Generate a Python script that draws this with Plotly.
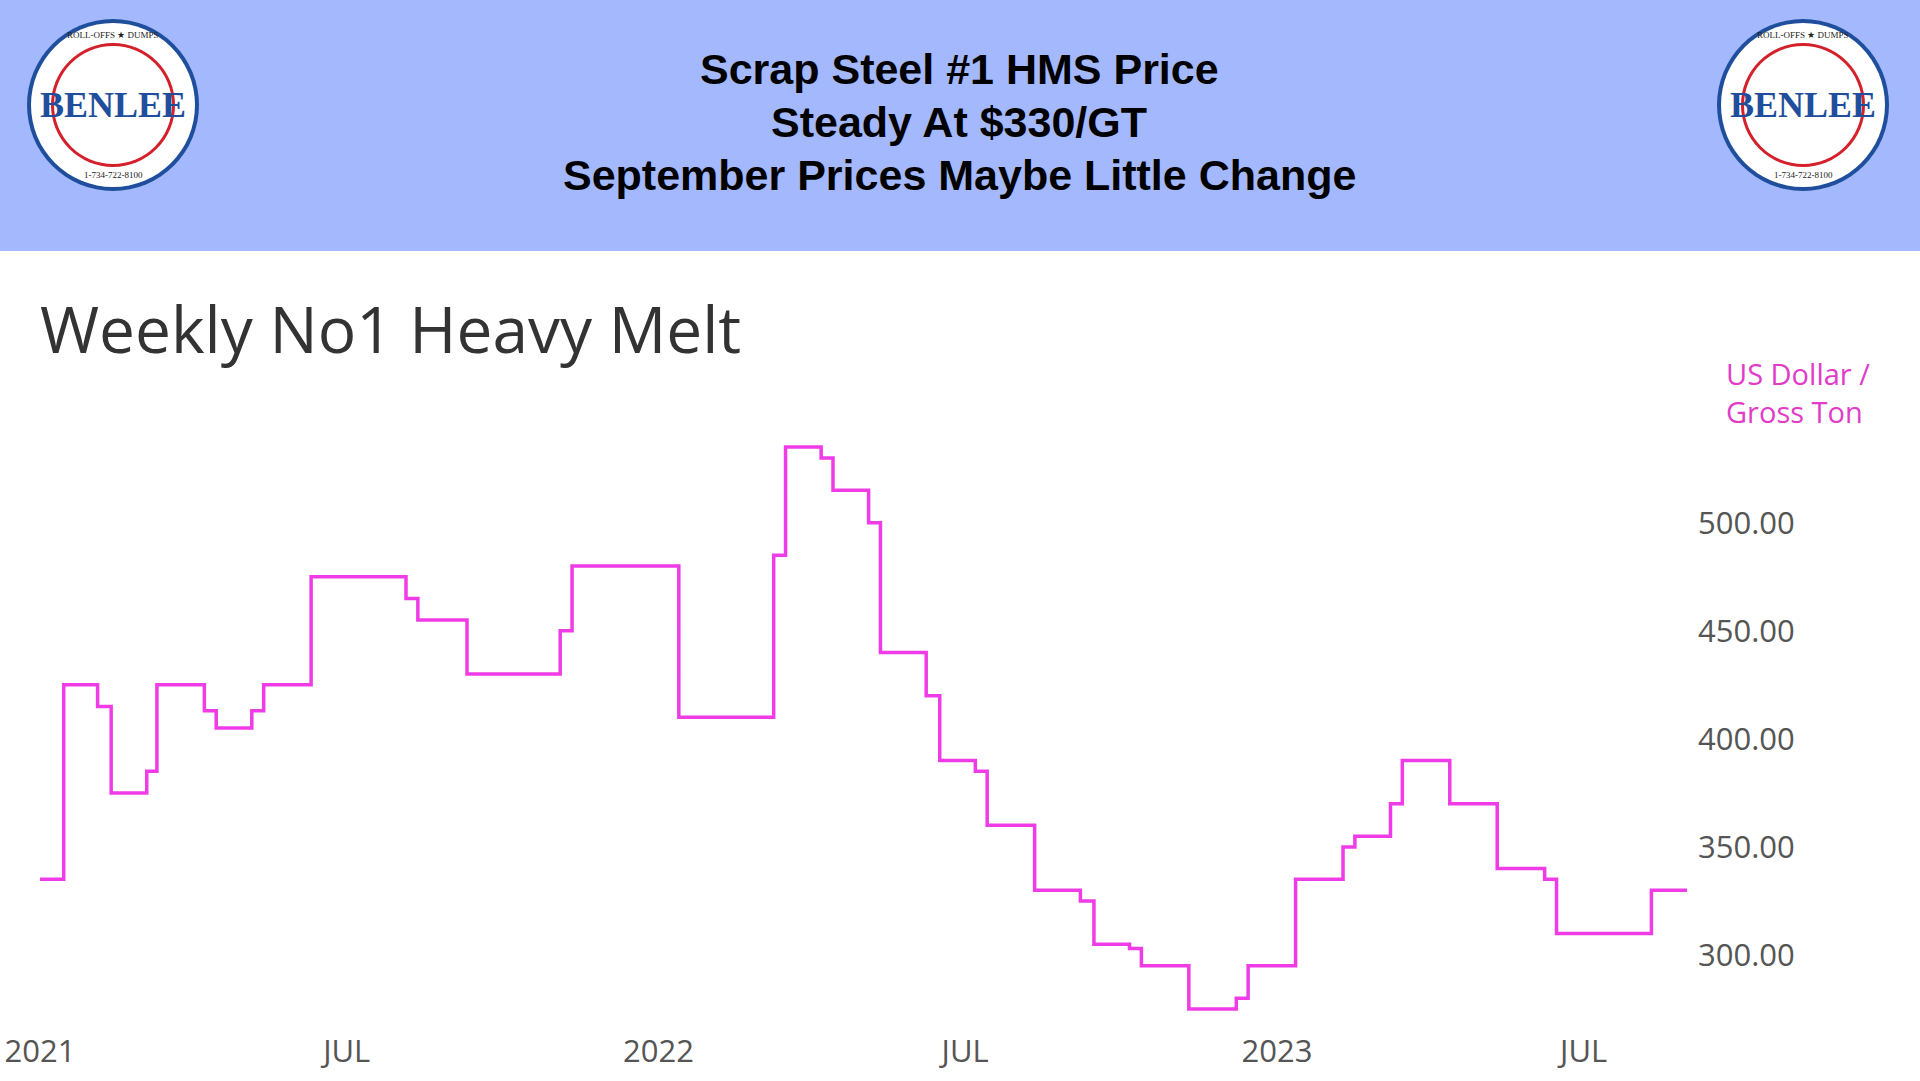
import plotly.graph_objects as go

W, H = 1920, 1081
dates = ["2021-01-01","2021-01-15","2021-02-04","2021-02-12","2021-03-05","2021-03-11","2021-04-08","2021-04-15",
         "2021-05-06","2021-05-13","2021-06-10","2021-08-05","2021-08-12","2021-09-10","2021-11-04","2021-11-11",
         "2022-01-13","2022-03-10","2022-03-17","2022-04-07","2022-04-14","2022-05-05","2022-05-12","2022-06-08",
         "2022-06-16","2022-07-07","2022-07-14","2022-08-11","2022-09-07","2022-09-15","2022-10-06","2022-10-13",
         "2022-11-10","2022-12-08","2022-12-15","2023-01-12","2023-02-09","2023-02-16","2023-03-09","2023-03-16",
         "2023-04-13","2023-05-11","2023-06-08","2023-06-15","2023-08-10","2023-08-31"]
prices = [335,425,415,375,385,425,413,405,413,425,475,465,455,430,450,480,
          410,485,535,530,515,500,440,420,390,385,360,330,325,305,303,295,
          275,280,295,335,350,355,370,390,370,340,335,310,330,330]
tick_vals = ["2021-01-01","2021-07-01","2022-01-01","2022-07-01","2023-01-01","2023-07-01"]
tick_text = ["2021","JUL","2022","JUL","2023","JUL"]
y_ticks = [300,350,400,450,500]

fig = go.Figure(go.Scatter(x=dates, y=prices, mode="lines", line=dict(color="#f03ce6", width=3.5, shape="hv")))

shapes = [dict(type="rect", xref="paper", yref="paper", x0=0, x1=1, y0=1-251/H, y1=1,
               fillcolor="#a3b8fd", line_width=0, layer="below")]
annotations = []
def ann(x, y, text, font, xanchor="center", **kw):
    annotations.append(dict(x=x/W, y=1-y/H, xref="paper", yref="paper", text=text, showarrow=False,
                            xanchor=xanchor, yanchor="middle", font=font, **kw))

for cx in (113, 1803):
    cy, r = 105, 86
    for rr, col in ((r, "#1f4f9c"), (r-4, "white"), (r-24, "#d4202a"), (r-27, "white")):
        shapes.append(dict(type="circle", xref="paper", yref="paper",
                           x0=(cx-rr)/W, x1=(cx+rr)/W, y0=1-(cy+rr)/H, y1=1-(cy-rr)/H,
                           fillcolor=col, line_width=0))
    ann(cx, cy, "<b>BENLEE</b>", dict(family="Liberation Sans Narrow, Arial Narrow", size=36, color="#1f4f9c"))
    ann(cx, cy-70, "ROLL-OFFS ★ DUMPS", dict(family="Liberation Serif", size=9, color="#222"))
    ann(cx, cy+70, "1-734-722-8100", dict(family="Liberation Serif", size=9, color="#222"))

for i, t in enumerate(["Scrap Steel #1 HMS Price", "Steady At $330/GT", "September Prices Maybe Little Change"]):
    ann(959, 69+53*i, "<b>"+t+"</b>", dict(family="Liberation Sans, Arial", size=43, color="black"))
ann(38, 328, "Weekly No1 Heavy Melt", dict(family="Open Sans", size=64, color="#333"), xanchor="left")
ann(1724, 392, "US Dollar /<br>Gross Ton", dict(family="Open Sans", size=29, color="#e03cc8"),
    xanchor="left", align="left")

fig.update_layout(
    width=W, height=H, margin=dict(l=0, r=0, t=0, b=0), paper_bgcolor="white", plot_bgcolor="white",
    showlegend=False, shapes=shapes, annotations=annotations,
    xaxis=dict(domain=[40/W, 1687/W], range=["2021-01-01", "2023-08-31"], tickvals=tick_vals, ticktext=tick_text,
               showgrid=False, zeroline=False, showline=False, ticks="", automargin=False,
               tickfont=dict(family="Open Sans", size=31, color="#555")),
    yaxis=dict(domain=[1-1030/H, 1-400/H], range=[265.3, 556.8], side="right", tickvals=y_ticks,
               tickformat=".2f", showgrid=False, zeroline=False, ticks="", automargin=False,
               ticklabelstandoff=10, tickfont=dict(family="Open Sans", size=31, color="#555")),
)
fig.write_html("out.html", config={"displayModeBar": False},
               post_script="document.body.style.margin='0';document.body.style.overflow='hidden';")
